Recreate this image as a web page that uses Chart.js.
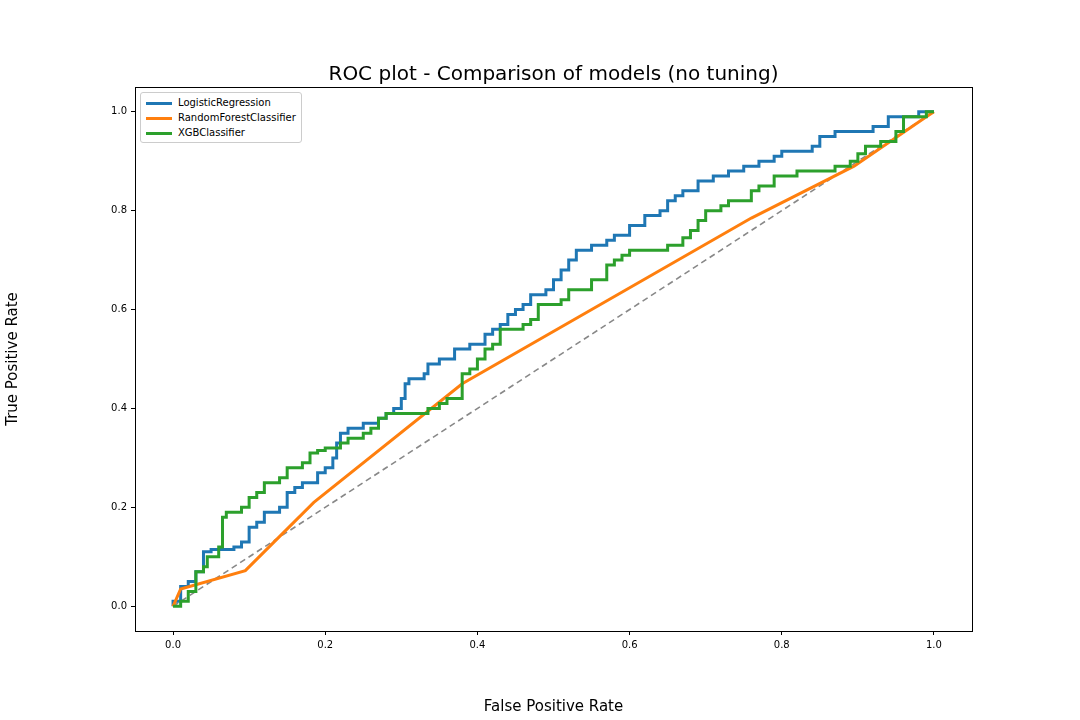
<!DOCTYPE html>
<html><head><meta charset="utf-8">
<script src="https://cdn.jsdelivr.net/npm/chart.js@4"></script>
<style>
body{margin:0;background:#fff;font-family:"DejaVu Sans",sans-serif}
#wrap{position:relative;width:1080px;height:720px}
#title{position:absolute;top:61px;left:135px;width:837px;text-align:center;font-size:20px;color:#000}
#legend{position:absolute;left:140px;top:92px;border:1px solid #ccc;border-radius:3px;background:#fff;padding:2px 5px;font-size:10px;line-height:15px}
#legend span{display:inline-block;width:26px;height:3px;margin-right:6px;vertical-align:middle}
</style></head>
<body><div id="wrap"><canvas id="myChart" width="1080" height="720"></canvas>
<div id="title">ROC plot - Comparison of models (no tuning)</div>
<div id="legend"></div></div>
<script>
const seriesNames = ['LogisticRegression', 'RandomForestClassifier', 'XGBClassifier'];
const seriesColors = ['#1f77b4', '#ff7f0e', '#2ca02c'];
const tickValues = [0.0, 0.2, 0.4, 0.6, 0.8, 1.0];

const lrFpr = [0,0,0.01,0.02,0.03,0.04,0.05,0.08,0.09,0.1,0.11,0.12,0.14,0.15,0.16,0.17,0.19,0.2,0.21,0.215,0.22,0.23,0.25,0.27,0.28,0.29,0.3,0.305,0.31,0.33,0.335,0.35,0.37,0.39,0.41,0.42,0.43,0.44,0.45,0.46,0.47,0.49,0.5,0.51,0.52,0.53,0.55,0.57,0.58,0.6,0.62,0.64,0.65,0.66,0.67,0.69,0.71,0.73,0.75,0.77,0.79,0.8,0.84,0.85,0.87,0.92,0.94,0.98,1];
const lrTpr = [0,0.01,0.04,0.05,0.07,0.11,0.115,0.12,0.13,0.16,0.17,0.19,0.2,0.23,0.24,0.25,0.27,0.28,0.30,0.33,0.35,0.36,0.37,0.38,0.39,0.40,0.42,0.45,0.46,0.47,0.49,0.5,0.52,0.53,0.55,0.56,0.57,0.59,0.6,0.61,0.63,0.64,0.66,0.68,0.7,0.72,0.73,0.74,0.75,0.77,0.79,0.8,0.82,0.83,0.84,0.86,0.87,0.88,0.89,0.9,0.91,0.92,0.93,0.95,0.96,0.97,0.99,1.0,1];

const rfFpr = [0,0.01,0.095,0.185,0.38,0.76,0.895,0.99,1];
const rfTpr = [0,0.035,0.072,0.21,0.45,0.785,0.89,0.99,1];

const xgbFpr = [0,0.01,0.02,0.03,0.04,0.045,0.06,0.065,0.07,0.09,0.1,0.11,0.12,0.14,0.15,0.17,0.18,0.19,0.2,0.22,0.23,0.25,0.26,0.27,0.28,0.335,0.35,0.36,0.38,0.39,0.4,0.41,0.42,0.43,0.46,0.47,0.48,0.51,0.52,0.55,0.57,0.58,0.59,0.6,0.65,0.67,0.68,0.69,0.7,0.72,0.73,0.76,0.77,0.79,0.82,0.87,0.89,0.9,0.91,0.93,0.95,0.96,0.98,0.99,1];
const xgbTpr = [0,0.01,0.03,0.07,0.08,0.1,0.12,0.18,0.19,0.2,0.22,0.23,0.25,0.26,0.28,0.29,0.31,0.315,0.32,0.33,0.34,0.35,0.36,0.38,0.39,0.40,0.41,0.42,0.47,0.48,0.5,0.52,0.53,0.56,0.57,0.58,0.61,0.62,0.64,0.66,0.69,0.70,0.71,0.72,0.73,0.745,0.76,0.78,0.8,0.81,0.82,0.84,0.85,0.87,0.88,0.89,0.9,0.915,0.93,0.94,0.96,0.99,0.99,1.0,1];

const diagX = [0, 1];
const diagY = [0, 1];

function pts(xs, ys){ return xs.map((x,i)=>({x:x, y:ys[i]})); }

const legend = document.getElementById('legend');
seriesNames.forEach((n,i)=>{
    legend.innerHTML += '<div><span style="background:'+seriesColors[i]+'"></span>'+n+'</div>';
});

// box round the plot area
const frame = {
    id: 'frame',
    afterDraw(chart){
        const a = chart.chartArea, c = chart.ctx;
        c.save(); c.strokeStyle = '#000'; c.lineWidth = 1;
        c.strokeRect(a.left+0.5, a.top+0.5, a.width, a.height);
        c.restore();
    }
};

const axis = (title) => ({
    type: 'linear', min: -0.05, max: 1.05,
    afterBuildTicks: s => { s.ticks = tickValues.map(v=>({value:v})); },
    grid: {drawOnChartArea: false, tickLength: 4, color: '#000'},
    border: {display: false},
    ticks: {color: '#000', font: {size: 10, family: 'DejaVu Sans'}, callback: v => v.toFixed(1), padding: 4},
    title: {display: true, text: title, color: '#000', font: {size: 15, family: 'DejaVu Sans'}}
});

const xAxis = axis('False Positive Rate');
xAxis.afterFit = s => { s.height = 89; };
const yAxis = axis('True Positive Rate');
yAxis.afterFit = s => { s.width = 135; };
yAxis.ticks.maxRotation = 0;

new Chart(document.getElementById('myChart'), {
    type: 'line',
    data: {
        datasets: [
            {data: pts(diagX, diagY), borderColor: '#888', borderDash: [6,4], borderWidth: 1.6, pointRadius: 0, order: 4},
            {label: seriesNames[0], data: pts(lrFpr, lrTpr), borderColor: seriesColors[0], borderWidth: 3, pointRadius: 0, stepped: 'before', order: 3},
            {label: seriesNames[1], data: pts(rfFpr, rfTpr), borderColor: seriesColors[1], borderWidth: 3, pointRadius: 0, order: 2},
            {label: seriesNames[2], data: pts(xgbFpr, xgbTpr), borderColor: seriesColors[2], borderWidth: 3, pointRadius: 0, stepped: 'before', order: 1}
        ]
    },
    options: {
        responsive: false,
        animation: false,
        layout: {padding: {left: 0, top: 87, right: 108, bottom: 0}},
        scales: {x: xAxis, y: yAxis},
        plugins: {legend: {display: false}, tooltip: {enabled: false}}
    },
    plugins: [frame]
});
</script></body></html>
